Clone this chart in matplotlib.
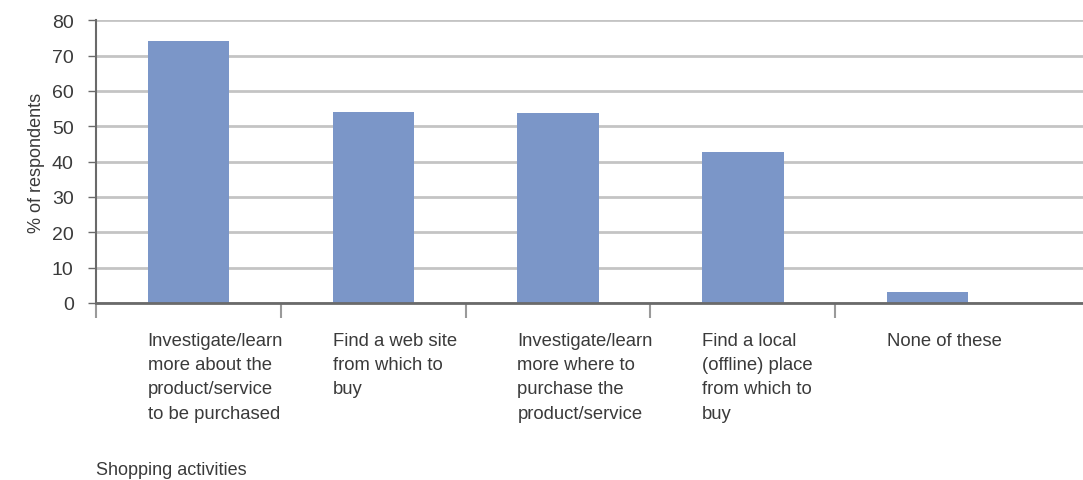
import numpy as np
import matplotlib
matplotlib.use("Agg")
import matplotlib.pyplot as plt

# survey results
activities = [
    "Investigate/learn\nmore about the\nproduct/service\nto be purchased",
    "Find a web site\nfrom which to\nbuy",
    "Investigate/learn\nmore where to\npurchase the\nproduct/service",
    "Find a local\n(offline) place\nfrom which to\nbuy",
    "None of these",
]
respondents_pct = [74, 54, 53.7, 42.7, 3]
yticks = [0, 10, 20, 30, 40, 50, 60, 70, 80]

bar_color = "#7b96c8"
grid_color = "#c4c4c4"
axis_color = "#6a6a6a"
text_color = "#3a3a3a"

plt.rcParams["font.family"] = ["Liberation Sans", "DejaVu Sans"]

fig = plt.figure(figsize=(10.83, 4.81), dpi=100)
ax = fig.add_axes([0.0886, 0.368, 0.9114, 0.588])

x = np.arange(len(activities))
bw = 0.44
ax.bar(x, respondents_pct, width=bw, color=bar_color, zorder=3)

ax.set_ylim(0, 80)
ax.set_xlim(-0.5, 4.84)
ax.set_yticks(yticks)
ax.yaxis.grid(True, color=grid_color, linewidth=2, zorder=0)
ax.tick_params(axis="y", length=6, width=1, color=axis_color, pad=10,
               labelsize=14, labelcolor=text_color)

# boundary ticks between categories, labels placed separately
ax.set_xticks([])
ax.set_xticks(np.arange(-0.5, 4, 1.0), minor=True)
ax.tick_params(axis="x", which="minor", length=11, width=1.5, color="#9a9a9a")

for s in ["top", "right"]:
    ax.spines[s].set_visible(False)
ax.spines["left"].set_color(axis_color)
ax.spines["left"].set_linewidth(1.5)
ax.spines["bottom"].set_color(axis_color)
ax.spines["bottom"].set_linewidth(2)
ax.spines["bottom"].set_zorder(4)

for i, label in enumerate(activities):
    ax.annotate(label, xy=(x[i] - bw / 2, 0), xycoords=("data", "axes fraction"),
                xytext=(0, -21), textcoords="offset points", ha="left", va="top",
                fontsize=13.3, color=text_color, linespacing=1.55)

ax.set_ylabel("% of respondents", fontsize=13, color=text_color, labelpad=5)
fig.text(0.0886, 0.004, "Shopping activities", fontsize=13, color=text_color,
         ha="left", va="bottom")

fig.savefig("out.png", dpi=100)
